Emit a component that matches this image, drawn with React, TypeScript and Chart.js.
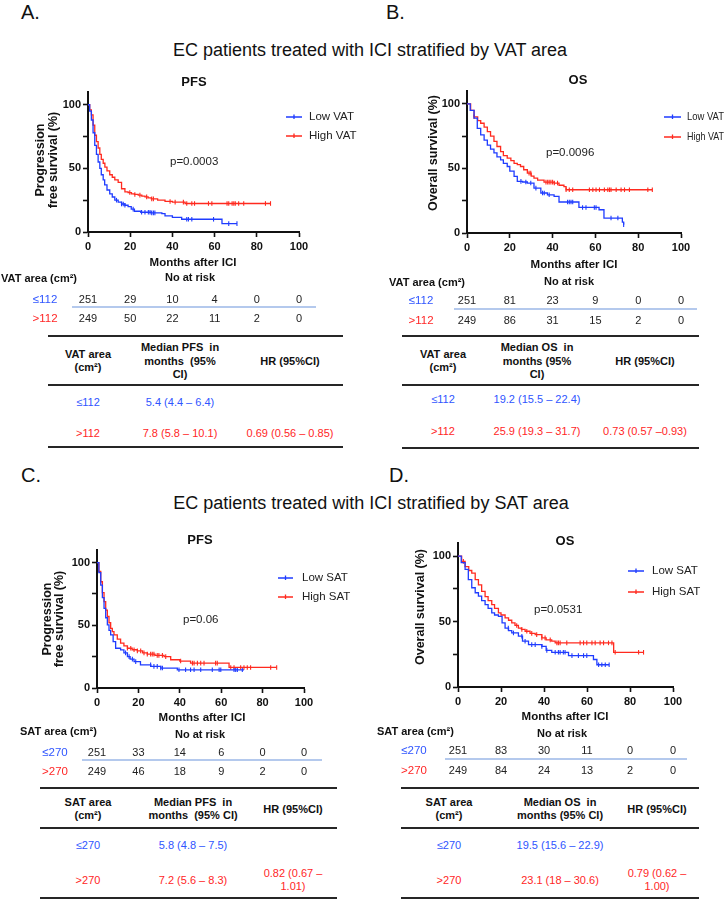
import React, { useEffect, useRef } from 'react';
import { Chart, registerables } from 'chart.js';
Chart.register(...registerables);

const FONT = '"Liberation Sans", Arial, Helvetica, sans-serif';
const BLUE = '#1f3cff';
const RED = '#ff2a1f';
const BLUE_TXT = '#2f55ff';
const RED_TXT = '#ff2626';

// ---- axis ticks ----
const monthTicks = [0, 20, 40, 60, 80, 100];
const survTicks = [0, 25, 50, 75, 100];
const survTickLabels = ['0', '', '50', '', '100'];

// ---- Panel A: PFS by VAT ----
const pfsVatLowT = [0, 0.8, 1.6, 2.4, 3.2, 4, 4.8, 5.6, 6.3, 7.2, 7.9, 9, 10.3, 11.5, 12.7, 14.3, 15.9, 17.5, 19, 20.5, 22, 25, 30, 35, 36.5, 40, 44.4, 50, 63.5, 70.6];
const pfsVatLowS = [100, 95, 88, 78, 68, 61, 55, 50, 45, 41, 37, 33, 30, 27.5, 25, 23.5, 22, 21, 20, 18, 16.3, 15.5, 15, 14.5, 12.6, 11.5, 10, 10, 6.6, 6.6];
const pfsVatLowC = [13.5, 15.9, 16.7, 17.5, 21.4, 25.4, 27, 28.6, 29.4, 30.2, 31, 31.7, 46.8, 47.6, 49.2, 59.5, 66.7, 70.6];
const pfsVatHighT = [0, 0.8, 1.6, 2.4, 3.2, 4, 4.8, 5.6, 6.3, 7.2, 8, 9, 10.3, 11.5, 12.7, 14.3, 15.9, 17.5, 19, 20.6, 22, 23.8, 25.5, 27, 28.5, 30, 33, 36.5, 40, 46, 86.5];
const pfsVatHighS = [100, 96, 92, 84, 76, 71, 66, 61, 57, 54, 51, 48, 45, 43, 41, 39, 34, 31.5, 31, 30, 29.5, 29, 28.2, 27.6, 26.8, 26, 25, 24, 23.5, 22.4, 22.4];
const pfsVatHighC = [19.8, 22.2, 24.6, 27.8, 30.2, 31, 38.9, 41.3, 45.2, 46.8, 49.2, 50.5, 57.1, 58.7, 65.9, 66.7, 68.3, 69.1, 69.8, 71.4, 73.8, 84.1, 86.5];
const pfsVatRiskLow = [251, 29, 10, 4, 0, 0];
const pfsVatRiskHigh = [249, 50, 22, 11, 2, 0];

// ---- Panel B: OS by VAT ----
const osVatLowT = [0, 1.5, 3.3, 4.8, 6.4, 8, 9.5, 11, 12.6, 14, 15.7, 17, 18.8, 20, 22, 23.5, 26, 28.2, 31.3, 34.5, 37.6, 40.7, 43, 50, 52.3, 61.7, 64, 72.6, 73.2];
const osVatLowS = [100, 95, 89, 81, 76, 72, 68, 65, 62, 59, 56.7, 54, 51.5, 48, 43.8, 40, 39.5, 38.7, 34.8, 31, 29.6, 28.4, 24, 24, 19.8, 18, 11.6, 8.5, 6.4];
const osVatLowC = [25.2, 27.5, 29.8, 32.2, 35.3, 36.1, 38.4, 47, 47.8, 48.6, 49.4, 54, 55.6, 59.5, 60.3, 67.3, 70.5, 73.2];
const osVatHighT = [0, 1.7, 3.3, 5, 6.4, 8, 9.5, 11, 12.6, 14, 15.7, 17, 18.8, 20.5, 22, 23.5, 25, 26.5, 28.2, 30, 31.3, 33, 36, 40.7, 43, 45.3, 46.3, 86.6];
const osVatHighS = [100, 95, 90, 87, 85, 82, 78.6, 75, 71, 67, 63, 60, 58, 56, 54, 53, 51.5, 49, 46.4, 44, 42.5, 41, 39.4, 38.7, 37, 36, 33.5, 33.5];
const osVatHighC = [3.3, 29, 29.8, 36.9, 37.7, 38.4, 39.2, 40, 40.8, 42.3, 46.3, 47.8, 49.4, 57.2, 58.8, 60.3, 61.9, 64.2, 65.8, 66.6, 67.3, 69.7, 72, 73.6, 75.9, 84.5, 86.6];
const osVatRiskLow = [251, 81, 23, 9, 0, 0];
const osVatRiskHigh = [249, 86, 31, 15, 2, 0];

// ---- Panel C: PFS by SAT ----
const pfsSatLowT = [0, 0.9, 1.8, 2.6, 3.4, 4.2, 5, 5.8, 6.6, 7.8, 9, 11.4, 13, 14.7, 16, 17.9, 21, 26, 30.8, 38.8, 71];
const pfsSatLowS = [100, 92, 82, 72, 63.5, 56, 50.3, 46, 42.3, 37, 31.7, 30.4, 28, 25, 23, 21, 18.5, 17.2, 15.9, 14.5, 14.5];
const pfsSatLowC = [13.8, 15.5, 17.1, 18.7, 25.9, 27.5, 29.1, 30.8, 31.6, 39.6, 42.8, 45.2, 46.9, 50.1, 55.7, 59, 59.8, 66.2, 67, 67.8, 70.2];
const pfsSatHighT = [0, 0.9, 1.8, 2.6, 3.4, 4.2, 5, 5.8, 6.6, 7.4, 8.2, 9.8, 11.4, 13, 14.7, 17, 19.5, 22, 24.3, 28, 32.4, 35.6, 40, 45.2, 63.8, 86.8];
const pfsSatHighS = [100, 93, 84.7, 76, 68.8, 62, 57, 52, 47.6, 45, 42.3, 39, 35.7, 33.5, 31.7, 30.5, 29.6, 28, 27, 26, 25, 22.5, 21.5, 19.8, 16.4, 16.4];
const pfsSatHighC = [14.7, 16.3, 17.9, 19.5, 21.1, 22.7, 24.3, 25.9, 26.7, 27.5, 29.1, 29.9, 31.6, 33.2, 40.4, 46.1, 46.9, 48.5, 50.1, 51.7, 57.3, 58.1, 64.6, 66.2, 69.4, 71, 72.6, 74.2, 83.9, 86.8];
const pfsSatRiskLow = [251, 33, 14, 6, 0, 0];
const pfsSatRiskHigh = [249, 46, 18, 9, 2, 0];

// ---- Panel D: OS by SAT ----
const osSatLowT = [0, 1.5, 3.3, 4.8, 6.4, 8, 9.5, 11, 12.6, 14, 15.7, 17, 18.8, 20.5, 21.9, 23.5, 25, 28.1, 30, 32.8, 39, 41, 43.6, 51.4, 63, 64.6, 70.3];
const osSatLowS = [100, 95, 89.8, 82, 75.8, 72, 69.4, 66, 63, 60, 56.6, 55, 54, 49, 45, 43, 41.3, 38.8, 35, 32.4, 31, 28, 26.5, 24, 21, 17, 17];
const osSatLowC = [23.4, 25.8, 29.7, 31.2, 34.3, 35.9, 39, 41.3, 45.2, 46.7, 47.5, 49, 49.8, 53, 56, 58.4, 59.9, 65.4, 66.9, 68.5, 70.3];
const osSatHighT = [0, 1.7, 3.3, 5, 6.4, 8, 9.5, 11, 12.6, 14, 15.7, 17, 18.8, 20, 21.9, 23.5, 25, 26.5, 28.1, 29.5, 31.2, 33.5, 35.9, 39, 41, 43.6, 45.2, 72.4, 86.3];
const osSatHighS = [100, 96, 92, 89, 87, 82, 78, 73, 69, 66, 63, 60, 56.6, 55, 52.8, 51, 49, 47, 45, 44, 42.6, 41, 40, 37.5, 36, 35, 33.7, 26.5, 26.5];
const osSatHighC = [2.5, 27.3, 29.7, 32, 34.3, 36.6, 39, 40.5, 42.9, 46, 46.7, 47.5, 50.6, 56.8, 58.4, 59.9, 62.3, 63.8, 66.1, 67.7, 70, 71.6, 73.1, 84, 86.3];
const osSatRiskLow = [251, 83, 30, 11, 0, 0];
const osSatRiskHigh = [249, 84, 24, 13, 2, 0];

// ---- summary tables ----
const tblAHead = [['VAT area', '(cm²)'], ['Median PFS  in', 'months  (95%', 'CI)'], ['HR (95%CI)']];
const tblALow = [['≤112'], ['5.4 (4.4 – 6.4)'], ['']];
const tblAHigh = [['>112'], ['7.8 (5.8 – 10.1)'], ['0.69 (0.56 – 0.85)']];
const tblBHead = [['VAT area', '(cm²)'], ['Median OS  in', 'months (95%', 'CI)'], ['HR (95%CI)']];
const tblBLow = [['≤112'], ['19.2 (15.5 – 22.4)'], ['']];
const tblBHigh = [['>112'], ['25.9 (19.3 – 31.7)'], ['0.73 (0.57 –0.93)']];
const tblCHead = [['SAT area', '(cm²)'], ['Median PFS  in', 'months  (95% CI)'], ['HR (95%CI)']];
const tblCLow = [['≤270'], ['5.8 (4.8 – 7.5)'], ['']];
const tblCHigh = [['>270'], ['7.2 (5.6 – 8.3)'], ['0.82 (0.67 –', '1.01)']];
const tblDHead = [['SAT area', '(cm²)'], ['Median OS  in', 'months (95% CI)'], ['HR (95%CI)']];
const tblDLow = [['≤270'], ['19.5 (15.6 – 22.9)'], ['']];
const tblDHigh = [['>270'], ['23.1 (18 – 30.6)'], ['0.79 (0.62 –', '1.00)']];

function stepAt(t: number[], s: number[], x: number) {
  let v = s[0];
  for (let i = 0; i < t.length; i++) if (t[i] <= x) v = s[i];
  return v;
}

const panels: any[] = [
  {
    id: 'A', canvas: { left: 0, top: 66, width: 362, height: 264 },
    area: { left: 88, right: 299, top: 92, bottom: 232 },
    title: 'PFS', titleX: 194, titleY: 82,
    yTitle: ['Progression', 'free survival (%)'], yTitleX: [41, 54], yTitleY: 160,
    legend: { x0: 286, x1: 302, tx: 309, ys: [117, 136], labels: ['Low VAT', 'High VAT'], maxW: 60 },
    p: { text: 'p=0.0003', x: 170, y: 162 },
    xTitle: { x: 193, y: 263 },
    risk: { group: 'VAT area (cm²)', gx: 1, gy: 279, nrx: 190, nry: 278, rlx: 45, rows: [300, 319], labels: ['≤112', '>112'], low: pfsVatRiskLow, high: pfsVatRiskHigh, sepY: 307, sepX0: 72, sepX1: 316 },
    low: { t: pfsVatLowT, s: pfsVatLowS, c: pfsVatLowC },
    high: { t: pfsVatHighT, s: pfsVatHighS, c: pfsVatHighC },
  },
  {
    id: 'B', canvas: { left: 362, top: 66, width: 363, height: 264 },
    area: { left: 467, right: 681, top: 91, bottom: 233 },
    title: 'OS', titleX: 578, titleY: 80,
    yTitle: ['Overall survival (%)'], yTitleX: [434], yTitleY: 153,
    legend: { x0: 664, x1: 681, tx: 687, ys: [117, 137], labels: ['Low VAT', 'High VAT'], maxW: 37 },
    p: { text: 'p=0.0096', x: 546, y: 153 },
    xTitle: { x: 574, y: 265 },
    risk: { group: 'VAT area (cm²)', gx: 389, gy: 283, nrx: 569, nry: 282, rlx: 421, rows: [301, 321], labels: ['≤112', '>112'], low: osVatRiskLow, high: osVatRiskHigh, sepY: 309, sepX0: 454, sepX1: 697 },
    low: { t: osVatLowT, s: osVatLowS, c: osVatLowC },
    high: { t: osVatHighT, s: osVatHighS, c: osVatHighC },
  },
  {
    id: 'C', canvas: { left: 0, top: 524, width: 362, height: 258 },
    area: { left: 97, right: 304, top: 550, bottom: 688 },
    title: 'PFS', titleX: 200, titleY: 540,
    yTitle: ['Progression', 'free survival (%)'], yTitleX: [48, 60], yTitleY: 619,
    legend: { x0: 278, x1: 293, tx: 302, ys: [578, 597], labels: ['Low SAT', 'High SAT'], maxW: 60 },
    p: { text: 'p=0.06', x: 183, y: 620 },
    xTitle: { x: 202, y: 718 },
    risk: { group: 'SAT area (cm²)', gx: 20, gy: 732, nrx: 200, nry: 735, rlx: 55, rows: [753, 772], labels: ['≤270', '>270'], low: pfsSatRiskLow, high: pfsSatRiskHigh, sepY: 760, sepX0: 82, sepX1: 322 },
    low: { t: pfsSatLowT, s: pfsSatLowS, c: pfsSatLowC },
    high: { t: pfsSatHighT, s: pfsSatHighS, c: pfsSatHighC },
  },
  {
    id: 'D', canvas: { left: 362, top: 524, width: 363, height: 258 },
    area: { left: 458, right: 673, top: 543, bottom: 687 },
    title: 'OS', titleX: 565, titleY: 541,
    yTitle: ['Overall survival (%)'], yTitleX: [421], yTitleY: 607,
    legend: { x0: 628, x1: 644, tx: 652, ys: [571, 592], labels: ['Low SAT', 'High SAT'], maxW: 60 },
    p: { text: 'p=0.0531', x: 534, y: 610 },
    xTitle: { x: 565, y: 717 },
    risk: { group: 'SAT area (cm²)', gx: 377, gy: 732, nrx: 562, nry: 734, rlx: 414, rows: [751, 771], labels: ['≤270', '>270'], low: osSatRiskLow, high: osSatRiskHigh, sepY: 759, sepX0: 445, sepX1: 687 },
    low: { t: osSatLowT, s: osSatLowS, c: osSatLowC },
    high: { t: osSatHighT, s: osSatHighS, c: osSatHighC },
  },
];

const tables: any[] = [
  { x0: 48, x1: 343, lines: [336, 385, 447], cols: [88, 180, 290], headY: 361, rows: [402, 433], head: tblAHead, low: tblALow, high: tblAHigh },
  { x0: 402, x1: 699, lines: [336, 385, 448], cols: [443, 537, 645], headY: 361, rows: [399, 431], head: tblBHead, low: tblBLow, high: tblBHigh },
  { x0: 40, x1: 337, lines: [788, 828, 898], cols: [88, 193, 293], headY: 809, rows: [845, 880], head: tblCHead, low: tblCLow, high: tblCHigh },
  { x0: 401, x1: 699, lines: [788, 828, 898], cols: [449, 560, 657], headY: 809, rows: [845, 880], head: tblDHead, low: tblDLow, high: tblDHigh },
];

function KMPanel({ cfg }: { cfg: any }) {
  const ref = useRef<HTMLCanvasElement>(null);
  const { left: ox, top: oy, width: W, height: H } = cfg.canvas;
  useEffect(() => {
    if (!ref.current) return;
    const yAxisW = 30;
    const xAxisH = 22;
    const pad = {
      left: cfg.area.left - ox - yAxisW,
      right: ox + W - cfg.area.right,
      top: cfg.area.top - oy,
      bottom: H - (cfg.area.bottom - oy) - xAxisH,
    };
    const mkLine = (ser: any, color: string) => ({
      type: 'line',
      data: ser.t.map((t: number, i: number) => ({ x: t, y: ser.s[i] })),
      stepped: true,
      borderColor: color,
      borderWidth: 1.3,
      pointRadius: 0,
      fill: false,
    });
    const mkCens = (ser: any, color: string) => ({
      type: 'line',
      showLine: false,
      data: ser.c.map((t: number) => ({ x: t, y: stepAt(ser.t, ser.s, t) })),
      pointStyle: 'line',
      rotation: 90,
      pointRadius: 2.3,
      pointBorderWidth: 1.1,
      borderColor: color,
      pointBorderColor: color,
      backgroundColor: color,
    });
    const font = (size: number, bold = false) => `${bold ? 'bold ' : ''}${size}px ${FONT}`;
    const overlay = {
      id: 'kmOverlay',
      afterDraw(chart: any) {
        const ctx = chart.ctx;
        const X = (v: number) => v - ox;
        const Y = (v: number) => v - oy;
        const txt = (s: string, x: number, y: number, size: number, bold: boolean, align: CanvasTextAlign, color = '#111', maxW?: number) => {
          ctx.font = font(size, bold);
          ctx.fillStyle = color;
          ctx.textAlign = align;
          ctx.textBaseline = 'middle';
          if (maxW) ctx.fillText(s, x, y, maxW);
          else ctx.fillText(s, x, y);
        };
        ctx.save();
        txt(cfg.title, X(cfg.titleX), Y(cfg.titleY), 13, true, 'center');
        cfg.yTitle.forEach((line: string, i: number) => {
          ctx.save();
          ctx.translate(X(cfg.yTitleX[i]), Y(cfg.yTitleY));
          ctx.rotate(-Math.PI / 2);
          txt(line, 0, 0, 12.5, true, 'center');
          ctx.restore();
        });
        // legend
        const lg = cfg.legend;
        [BLUE, RED].forEach((color, i) => {
          const y = Y(lg.ys[i]);
          ctx.strokeStyle = color;
          ctx.lineWidth = 1.3;
          ctx.beginPath();
          ctx.moveTo(X(lg.x0), y);
          ctx.lineTo(X(lg.x1), y);
          const mx = (X(lg.x0) + X(lg.x1)) / 2;
          ctx.moveTo(mx, y - 2.5);
          ctx.lineTo(mx, y + 2);
          ctx.stroke();
          txt(lg.labels[i], X(lg.tx), y, 11.5, false, 'left', '#222', lg.maxW);
        });
        txt(cfg.p.text, X(cfg.p.x), Y(cfg.p.y), 11.5, false, 'left', '#222');
        txt('Months after ICI', X(cfg.xTitle.x), Y(cfg.xTitle.y), 11.5, true, 'center');
        // numbers at risk
        const r = cfg.risk;
        txt(r.group, X(r.gx), Y(r.gy), 11, true, 'left');
        txt('No at risk', X(r.nrx), Y(r.nry), 11, true, 'center');
        txt(r.labels[0], X(r.rlx), Y(r.rows[0]), 11.5, false, 'center', BLUE_TXT);
        txt(r.labels[1], X(r.rlx), Y(r.rows[1]), 11.5, false, 'center', RED_TXT);
        const xs = chart.scales.x;
        monthTicks.forEach((m, i) => {
          const px = xs.getPixelForValue(m);
          txt(String(r.low[i]), px, Y(r.rows[0]), 11, false, 'center', '#222');
          txt(String(r.high[i]), px, Y(r.rows[1]), 11, false, 'center', '#222');
        });
        ctx.strokeStyle = '#6a93db';
        ctx.lineWidth = 1.2;
        ctx.beginPath();
        ctx.moveTo(X(r.sepX0), Y(r.sepY));
        ctx.lineTo(X(r.sepX1), Y(r.sepY));
        ctx.stroke();
        ctx.restore();
      },
    };
    const axisCommon = {
      type: 'linear',
      grid: { display: true, drawOnChartArea: false, drawTicks: true, tickLength: 5, tickWidth: 1.6, tickColor: '#111' },
      border: { display: true, color: '#111', width: 2 },
    };
    const chart = new Chart(ref.current, {
      type: 'line',
      data: {
        datasets: [
          mkLine(cfg.low, BLUE),
          mkLine(cfg.high, RED),
          mkCens(cfg.low, BLUE),
          mkCens(cfg.high, RED),
        ] as any,
      },
      options: {
        animation: false,
        responsive: false,
        maintainAspectRatio: false,
        events: [],
        layout: { padding: pad },
        plugins: { legend: { display: false }, tooltip: { enabled: false }, title: { display: false } },
        scales: {
          x: {
            ...axisCommon,
            min: 0,
            max: 100,
            afterBuildTicks: (s: any) => { s.ticks = monthTicks.map((v) => ({ value: v })); },
            afterFit: (s: any) => { s.height = xAxisH; },
            ticks: { font: { family: FONT, size: 11, weight: 'bold' }, color: '#111', padding: 3, maxRotation: 0, autoSkip: false },
          },
          y: {
            ...axisCommon,
            min: 0,
            max: 110,
            afterBuildTicks: (s: any) => { s.ticks = survTicks.map((v) => ({ value: v })); },
            afterFit: (s: any) => { s.width = yAxisW; },
            ticks: {
              font: { family: FONT, size: 11, weight: 'bold' }, color: '#111', padding: 2, autoSkip: false,
              callback: (_v: any, i: number) => survTickLabels[i],
            },
          },
        } as any,
      },
      plugins: [overlay],
    } as any);
    return () => chart.destroy();
  }, []);
  return (
    <canvas
      ref={ref}
      width={W}
      height={H}
      style={{ position: 'absolute', left: ox, top: oy, width: W, height: H, display: 'block' }}
    />
  );
}

function Txt({ x, y, children, size = 11, bold = false, color = '#111', align = 'center', family = FONT }: any) {
  const h = Math.round(size * 1.5);
  const style: any = {
    position: 'absolute', top: y - h / 2, height: h, lineHeight: h + 'px', fontSize: size,
    fontWeight: bold ? 700 : 400, color, fontFamily: family, whiteSpace: 'pre',
  };
  if (align === 'center') { style.left = x - 400; style.width = 800; style.textAlign = 'center'; }
  else { style.left = x; }
  return <div style={style}>{children}</div>;
}

function SummaryTable({ t }: { t: any }) {
  const LH = 13.5;
  const out: any[] = [];
  t.lines.forEach((y: number, i: number) => {
    out.push(<div key={'l' + i} style={{ position: 'absolute', left: t.x0, width: t.x1 - t.x0, top: y - 1, height: 2, background: '#262626' }} />);
  });
  t.head.forEach((lines: string[], c: number) => {
    lines.forEach((s, k) => {
      const y = t.headY + (k - (lines.length - 1) / 2) * LH;
      out.push(<Txt key={'h' + c + k} x={t.cols[c]} y={y} size={11} bold>{s}</Txt>);
    });
  });
  [t.low, t.high].forEach((row: string[][], r: number) => {
    const color = r === 0 ? BLUE_TXT : RED_TXT;
    row.forEach((lines, c) => {
      lines.forEach((s, k) => {
        const y = t.rows[r] + (k - (lines.length - 1) / 2) * 13;
        out.push(<Txt key={'r' + r + c + k} x={t.cols[c]} y={y} size={11} color={color}>{s}</Txt>);
      });
    });
  });
  return <>{out}</>;
}

export default function App() {
  return (
    <div style={{ position: 'absolute', left: 0, top: 0, width: 725, height: 899, background: '#fff', overflow: 'hidden', fontFamily: FONT }}>
      <Txt x={21} y={12} size={20} align="left" color="#111">A.</Txt>
      <Txt x={386} y={12} size={20} align="left" color="#111">B.</Txt>
      <Txt x={21} y={475} size={20} align="left" color="#111">C.</Txt>
      <Txt x={389} y={475} size={20} align="left" color="#111">D.</Txt>
      <Txt x={370} y={50} size={18} color="#111">EC patients treated with ICI stratified by VAT area</Txt>
      <Txt x={371} y={503} size={18} color="#111">EC patients treated with ICI stratified by SAT area</Txt>
      {panels.map((p) => <KMPanel key={p.id} cfg={p} />)}
      {tables.map((t, i) => <SummaryTable key={i} t={t} />)}
    </div>
  );
}
